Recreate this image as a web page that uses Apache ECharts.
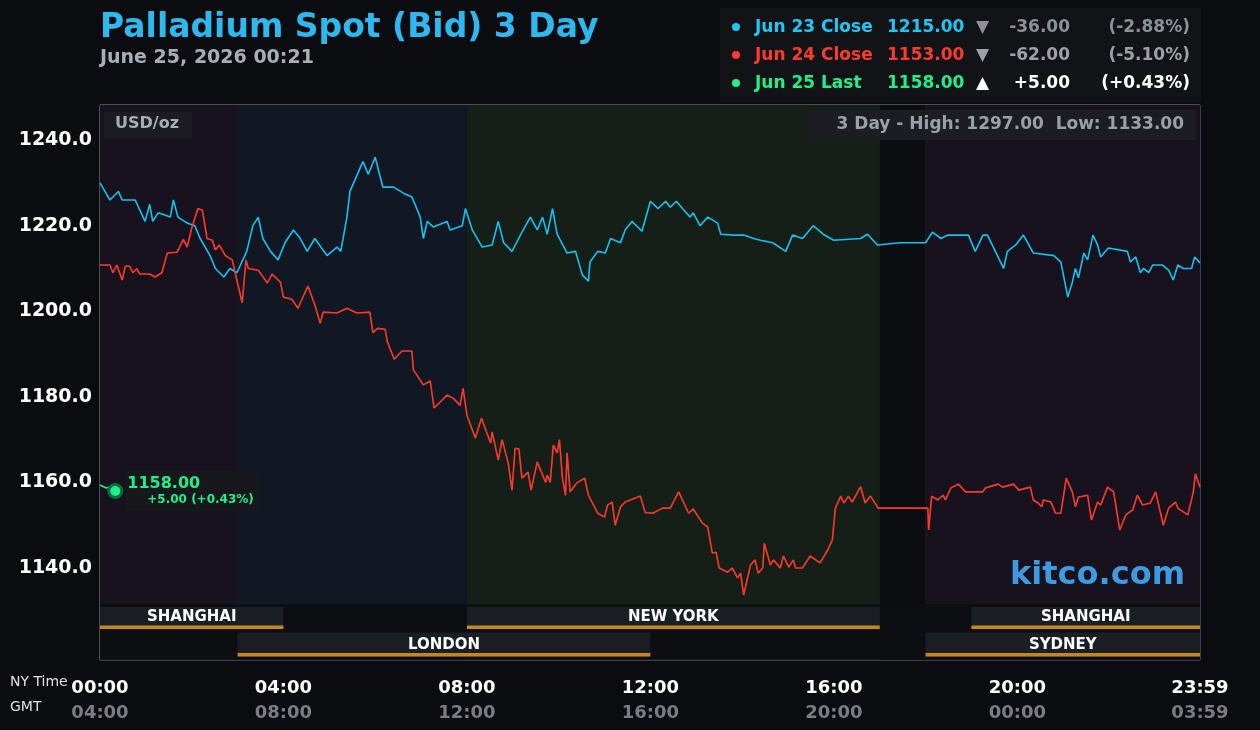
<!DOCTYPE html>
<html>
<head>
  <meta charset="utf-8">
  <title>Palladium Spot (Bid) 3 Day</title>
  <script src="https://cdn.jsdelivr.net/npm/echarts@6/dist/echarts.min.js"></script>
  <style>
    html, body { margin: 0; padding: 0; background: #0b0c0f; }
    #main { width: 1260px; height: 730px; }
  </style>
</head>
<body>
  <div id="main"></div>
  <script type="text/javascript">
    // minutes after 00:00 NY time, price in USD/oz
    var jun23 = [
      [0,1230],[13,1226],[24,1228],[29,1226],[46,1226],[59,1221],[65,1225],[69,1221],[76,1223],[92,1222],
      [96,1226],[102,1222],[114,1220.6],[124,1220],[131,1217],[144,1213],[151,1210],[162,1208],[170,1210],[179,1209],
      [192,1214],[200,1220],[207,1222],[213,1217],[223,1214],[233,1212],[242,1216],[253,1219],[262,1217],[271,1214],
      [281,1217],[297,1213],[310,1215],[315,1214],[323,1222],[327,1228],[338,1232.5],[344,1235],[351,1232],[360,1236],
      [370,1229],[384,1229],[397,1227.6],[408,1226.7],[419,1222],[423,1217],[428,1221],[436,1219.7],[454,1221],[458,1219],
      [474,1220],[478,1224],[487,1219],[500,1215],[513,1215.5],[521,1221],[528,1216],[539,1214],[552,1218.5],[563,1222],
      [572,1219],[579,1222],[585,1218],[592,1224],[598,1218],[611,1213.6],[622,1214],[631,1208.5],[639,1207],[641,1211.5],
      [651,1214],[661,1213.6],[668,1217],[681,1216],[687,1219],[696,1221],[709,1218.7],[720,1225.7],[730,1224],[740,1225.7],
      [746,1224.3],[754,1225.7],[762,1224],[772,1222],[776,1223],[785,1220],[795,1222],[808,1220.6],[812,1218],[829,1217.8],
      [842,1217.8],[855,1217],[864,1216.6],[880,1216],[897,1214],[906,1217.8],[919,1217],[933,1220],[946,1218],[960,1216.6],
      [995,1217],[1004,1218],[1017,1215.5],[1047,1216],[1080,1216],[1089,1218.5],[1100,1217],[1109,1217.8],[1136,1217.8],[1145,1214],
      [1155,1217.8],[1161,1217.8],[1174,1213],[1182,1210],[1187,1214],[1198,1215.5],[1208,1217.8],[1221,1213.6],[1248,1213],[1257,1211.5],
      [1266,1203.3],[1272,1206.8],[1276,1210],[1280,1207.8],[1287,1213.6],[1292,1212],[1299,1217.8],[1305,1215.5],[1309,1212.7],[1319,1214.8],
      [1344,1214],[1348,1211.5],[1355,1212.7],[1361,1209],[1365,1210],[1372,1209],[1377,1210.8],[1390,1210.8],[1398,1209.6],[1404,1207.3],
      [1410,1210.8],[1417,1210],[1428,1210],[1432,1212.7],[1439,1211.3]
    ];
    var jun24 = [
      [0,1210.8],[13,1210.8],[17,1209],[22,1210.8],[29,1207.3],[33,1210.5],[39,1210.5],[43,1209],[48,1210],[52,1208.7],
      [65,1208.7],[72,1208],[81,1209],[88,1213.6],[101,1213.8],[109,1216.8],[114,1215],[120,1219.4],[128,1224],[134,1223.6],
      [140,1217],[147,1216.6],[151,1214.3],[156,1215.5],[164,1213],[173,1212],[179,1207.3],[186,1202],[191,1212],[194,1210],
      [207,1209.6],[219,1206.6],[225,1208.7],[236,1206.8],[240,1203.3],[251,1202.8],[259,1200.7],[272,1205.9],[281,1201.5],[288,1197.2],
      [292,1199.8],[310,1199.6],[323,1200.7],[336,1199.6],[353,1199.8],[357,1195],[363,1196],[373,1195.8],[376,1192.8],[385,1188.8],
      [395,1190.7],[408,1190.7],[410,1186.3],[423,1182.8],[432,1183.7],[437,1177.4],[445,1178.8],[454,1180.4],[462,1179.7],[471,1178],
      [475,1182],[480,1175.7],[491,1170.4],[499,1175],[511,1169.2],[513,1171.8],[521,1165.2],[526,1170],[534,1164.5],[539,1158.2],
      [543,1168],[548,1167.8],[552,1161],[560,1162.4],[564,1158.2],[572,1164.8],[583,1160],[585,1161.7],[589,1160],[593,1168.7],
      [598,1166.9],[601,1170],[605,1161],[609,1157],[611,1166.9],[615,1157.8],[624,1159.9],[634,1161],[639,1157],[651,1152.8],
      [660,1151.9],[664,1154.7],[670,1155.4],[674,1150],[681,1154.3],[687,1155.4],[707,1156.8],[713,1153],[723,1152.8],[736,1154],
      [746,1154],[757,1157.8],[770,1152.8],[776,1153.8],[788,1150.5],[795,1149.6],[801,1143.5],[806,1143.7],[810,1140],[821,1139],
      [827,1140],[834,1137.7],[838,1138.8],[842,1133.7],[851,1140.7],[857,1141.9],[861,1138.8],[867,1140],[869,1145.8],[877,1140.7],
      [881,1141.9],[890,1140],[894,1142.8],[901,1140.2],[907,1141.9],[910,1140],[919,1140],[929,1142.8],[942,1141.2],[952,1144.2],
      [958,1146.5],[962,1154],[969,1156.8],[973,1155.2],[979,1156.8],[984,1155.4],[995,1159],[1001,1155.2],[1008,1156.8],[1018,1154],
      [1083,1154],[1084,1148.9],[1088,1156.8],[1096,1155.9],[1103,1157],[1106,1155.9],[1113,1158.7],[1123,1159.6],[1132,1157.8],[1155,1157.8],
      [1158,1158.7],[1162,1158.9],[1175,1159.6],[1181,1158.9],[1195,1159.6],[1202,1158.2],[1217,1158.9],[1221,1155.9],[1227,1155.2],[1232,1154.3],
      [1234,1155.9],[1244,1155.4],[1250,1152.8],[1257,1152.8],[1264,1161],[1272,1157.8],[1276,1154.3],[1280,1156.6],[1292,1157],[1297,1151.2],
      [1305,1155.4],[1309,1154.7],[1318,1158.9],[1326,1157.8],[1334,1148.9],[1342,1152.4],[1351,1153.6],[1357,1157],[1364,1154.7],[1374,1155.2],
      [1381,1157.8],[1391,1150],[1398,1154],[1407,1155.4],[1410,1154],[1423,1152.4],[1430,1157.5],[1433,1162],[1439,1158.9]
    ];
    var jun25 = [[0,1159.4],[8,1158.7],[14,1159],[20,1158]];

    // trading sessions: [start minute, end minute, row, name]
    var sessions = [
      [0,240,0,'SHANGHAI'],[480,1020,0,'NEW YORK'],[1140,1439,0,'SHANGHAI'],
      [180,720,1,'LONDON'],[1080,1439,1,'SYDNEY']
    ];
    // shaded backgrounds: [start, end, colour]
    var shades = [
      [0,180,'#18121e'],[180,480,'#111723'],[480,1020,'#151f18'],[1020,1080,'#0c0d10'],[1080,1439,'#18121e']
    ];
    var legendRows = [
      ['Jun 23 Close','1215.00','▼','-36.00','(-2.88%)','#1ec8f4','#8c9099'],
      ['Jun 24 Close','1153.00','▼','-62.00','(-5.10%)','#ff3b30','#9ca0a8'],
      ['Jun 25 Last','1158.00','▲','+5.00','(+0.43%)','#1ef08a','#ffffff']
    ];

    var F = 'DejaVu Sans';
    var myChart = echarts.init(document.getElementById('main'));

    function hhmm(m) {
      m = ((m % 1440) + 1440) % 1440;
      var h = Math.floor(m / 60), mm = m % 60;
      return (h < 10 ? '0' : '') + h + ':' + (mm < 10 ? '0' : '') + mm;
    }

    var graphics = [
      { type: 'text', left: 100, top: 12, style: { text: 'Palladium Spot (Bid) 3 Day', fill: '#2db8f0', font: 'bold 33px ' + F } },
      { type: 'text', left: 100, top: 49, style: { text: 'June 25, 2026 00:21', fill: '#a9adb5', font: 'bold 19px ' + F } },
      { type: 'rect', shape: { x: 720, y: 8, width: 481, height: 94 }, style: { fill: '#121317' } },
      { type: 'text', left: 10, top: 675, style: { text: 'NY Time', fill: '#e0e0e0', font: '14px ' + F } },
      { type: 'text', left: 10, top: 700, style: { text: 'GMT', fill: '#e0e0e0', font: '14px ' + F } },
      { type: 'rect', z: 10, shape: { x: 104, y: 112, width: 88, height: 26 }, style: { fill: '#1b1d22' } },
      { type: 'text', z: 11, left: 115, top: 116, style: { text: 'USD/oz', fill: '#a9adb5', font: 'bold 16px ' + F } },
      { type: 'rect', z: 10, shape: { x: 806, y: 110, width: 390, height: 30 }, style: { fill: '#1b1d22' } },
      { type: 'text', z: 11, right: 76, top: 116, style: { text: '3 Day - High: 1297.00  Low: 1133.00', fill: '#9aa0aa', font: 'bold 17px ' + F } },
      { type: 'text', z: 11, right: 75, top: 560, style: { text: 'kitco.com', fill: '#3f9be0', font: 'bold 32px ' + F } }
    ];
    legendRows.forEach(function (r, i) {
      var y = 19 + i * 28;
      graphics.push(
        { type: 'circle', shape: { cx: 736, cy: y + 8, r: 4 }, style: { fill: r[5] } },
        { type: 'text', left: 755, top: y, style: { text: r[0], fill: r[5], font: 'bold 17px ' + F } },
        { type: 'text', left: 887, top: y, style: { text: r[1], fill: r[5], font: 'bold 17px ' + F } },
        { type: 'text', left: 976, top: y, style: { text: r[2], fill: r[6], font: 'bold 17px ' + F } },
        { type: 'text', right: 190, top: y, style: { text: r[3], fill: r[6], font: 'bold 17px ' + F } },
        { type: 'text', right: 70, top: y, style: { text: r[4], fill: r[6], font: 'bold 17px ' + F } }
      );
    });

    var option = {
      backgroundColor: '#0b0c0f',
      animation: false,
      graphic: graphics,
      grid: [
        { left: 100, top: 105, width: 1100, height: 555, show: true, borderColor: '#8d93a3', borderWidth: 1, backgroundColor: 'transparent' },
        { left: 100, top: 604, width: 1100, height: 55, show: true, borderWidth: 0, backgroundColor: '#0d0e11', z: 5 }
      ],
      xAxis: [
        {
          type: 'value', gridIndex: 0, min: 0, max: 1439, interval: 240, z: 1,
          axisLine: { show: false }, axisTick: { show: false },
          splitLine: { show: true, lineStyle: { color: '#3a3e48', width: 1 } },
          minorTick: { show: false, splitNumber: 4 },
          minorSplitLine: { show: true, lineStyle: { color: '#2b2e37', width: 1 } },
          axisLabel: {
            margin: 16, showMaxLabel: true,
            formatter: function (v) { return '{a|' + hhmm(v) + '}\n{b|' + hhmm(v + 240) + '}'; },
            rich: {
              a: { color: '#ffffff', fontFamily: F, fontWeight: 'bold', fontSize: 18, lineHeight: 25 },
              b: { color: '#7a7d84', fontFamily: F, fontWeight: 'bold', fontSize: 18, lineHeight: 25 }
            }
          }
        },
        { type: 'value', gridIndex: 1, min: 0, max: 1439, show: false }
      ],
      yAxis: [
        {
          type: 'value', gridIndex: 0, min: 1118.5, max: 1248.2, splitNumber: 6, minInterval: 20, maxInterval: 20, z: 1,
          axisLine: { show: false }, axisTick: { show: false },
          splitLine: { lineStyle: { color: '#3a3e48', width: 1 } },
          axisLabel: {
            margin: 8, color: '#ffffff', fontFamily: F, fontWeight: 'bold', fontSize: 19,
            formatter: function (v) { return (v < 1130 || v > 1245) ? '' : v.toFixed(1); }
          }
        },
        { type: 'value', gridIndex: 1, min: 0, max: 2, inverse: true, show: false }
      ],
      series: [
        {
          name: 'bg', type: 'line', data: [], xAxisIndex: 0, yAxisIndex: 0, silent: true, z: -1,
          markArea: {
            silent: true,
            data: shades.map(function (s) {
              return [{ xAxis: s[0], itemStyle: { color: s[2] } }, { xAxis: s[1] }];
            })
          }
        },
        {
          name: 'Jun 23 Close', type: 'line', data: jun23, showSymbol: false, z: 3,
          lineStyle: { color: '#0fc4f0', width: 1.6 }, itemStyle: { color: '#0fc4f0' }
        },
        {
          name: 'Jun 24 Close', type: 'line', data: jun24, showSymbol: false, z: 3,
          lineStyle: { color: '#ff3a2c', width: 1.6 }, itemStyle: { color: '#ff3a2c' }
        },
        {
          name: 'Jun 25 Last', type: 'line', data: jun25, showSymbol: false, z: 4,
          lineStyle: { color: '#1ef08a', width: 1.6 }, itemStyle: { color: '#1ef08a' },
          markPoint: {
            symbol: 'circle', symbolSize: 13,
            itemStyle: { color: '#1ef08a', borderColor: '#0e6b3c', borderWidth: 3 },
            label: { show: false },
            data: [{ coord: jun25[jun25.length - 1] }]
          },
          endLabel: {
            show: true, distance: 10,
            backgroundColor: '#16181b', padding: [4, 6, 4, 2],
            formatter: function () { return '{a|1158.00}\n{b|+5.00 (+0.43%)}'; },
            rich: {
              a: { color: '#1ef08a', fontFamily: F, fontWeight: 'bold', fontSize: 16, lineHeight: 17 },
              b: { color: '#1ef08a', fontFamily: F, fontWeight: 'bold', fontSize: 12, lineHeight: 15, padding: [0, 0, 0, 20] }
            }
          }
        },
        {
          name: 'sessions', type: 'custom', xAxisIndex: 1, yAxisIndex: 1, z: 6, silent: true,
          data: sessions,
          renderItem: function (params, api) {
            var p0 = api.coord([api.value(0), api.value(2)]);
            var p1 = api.coord([api.value(1), api.value(2) + 1]);
            var top = p0[1] + (api.value(2) === 0 ? 3 : 1);
            var bot = p1[1] - 2;
            return {
              type: 'group',
              children: [
                { type: 'rect', shape: { x: p0[0], y: top, width: p1[0] - p0[0], height: bot - top }, style: { fill: '#1b1e25' } },
                { type: 'rect', shape: { x: p0[0], y: bot - 4, width: p1[0] - p0[0], height: 3.5 }, style: { fill: '#c8861f' } },
                { type: 'text', x: (p0[0] + p1[0]) / 2, y: bot - 12, style: {
                  text: sessions[params.dataIndex][3], fill: '#ffffff', font: 'bold 15px ' + F,
                  textAlign: 'center', textVerticalAlign: 'middle' } }
              ]
            };
          }
        }
      ]
    };
    myChart.setOption(option);
  </script>
</body>
</html>
